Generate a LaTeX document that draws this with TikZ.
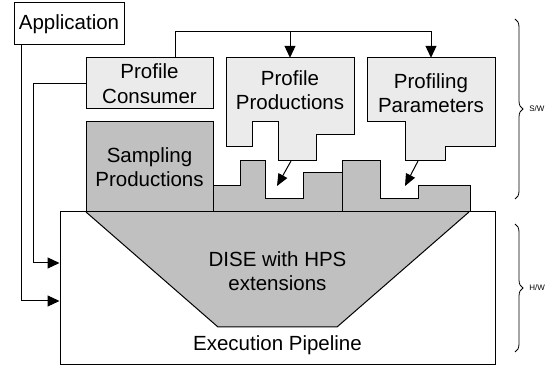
\documentclass[tikz,border=0pt]{standalone}
\usepackage{fontspec}
\setmainfont{Liberation Sans}
\usetikzlibrary{arrows.meta}
\usetikzlibrary{decorations.pathreplacing}
\usetikzlibrary{positioning}
\definecolor{lightpart}{HTML}{EBEBEB}
\definecolor{darkpart}{HTML}{C0C0C0}
\newcommand{\bigtext}{\fontsize{20.5}{24.5}\selectfont}
\tikzset{box/.style = {draw, line width=1pt, inner sep=0, align=center, font=\bigtext}}
\tikzset{txt/.style = {inner sep=0, align=center, font=\bigtext}}
\tikzset{part/.style = {draw, line width=1pt}}
\tikzset{arr/.style = {line width=1pt, -{Triangle[length=12pt, width=11pt]}}}
\tikzset{brace/.style = {decorate, decoration={brace, amplitude=8pt}, line width=0.8pt}}
\tikzset{side/.style = {midway, anchor=west, xshift=14pt, inner sep=0, font=\fontsize{8}{9}\selectfont}}

\begin{document}
\begin{tikzpicture}[x=1pt, y=-1pt]
      \useasboundingbox (0, 0) rectangle (552, 366);

      % hardware
      \node [box, fill=white, minimum width=435, minimum height=152] (pipe) at (277.5, 288) {};
      \fill [darkpart] (86, 212) -- (469, 212) -- (337, 327) -- (218, 327) -- cycle;
      \draw [line width=1pt] (86, 212) -- (218, 327) -- (337, 327) -- (469, 212);
      \node [txt] (dise) at (277.5, 271) {DISE with HPS\\extensions};
      \node [txt] (exec) at (277.5, 345) {Execution Pipeline};

      % productions
      \draw [part, fill=darkpart] (213, 212) -- (213, 186) -- (240, 186) -- (240, 161) -- (265, 161) -- (265, 199)
            -- (303, 199) -- (303, 173) -- (342, 173) -- (342, 212) -- cycle;
      \draw [part, fill=darkpart] (342, 212) -- (342, 161) -- (380, 161) -- (380, 199) -- (418, 199) -- (418, 186)
            -- (470, 186) -- (470, 212) -- cycle;
      \node [box, fill=darkpart, minimum width=127, minimum height=90] (samp) at (149.5, 167) {Sampling\\Productions};

      \draw [part, fill=lightpart] (226, 58) -- (354, 58) -- (354, 135) -- (316, 135) -- (316, 161) -- (278, 161)
            -- (278, 122) -- (252, 122) -- (252, 147) -- (226, 147) -- cycle;
      \node [txt, minimum width=128, minimum height=64] (prod) at (290, 90) {Profile\\Productions};
      \draw [part, fill=lightpart] (367, 58) -- (495, 58) -- (495, 147) -- (445, 147) -- (445, 161) -- (405, 161)
            -- (405, 122) -- (367, 122) -- cycle;
      \node [txt, minimum width=128, minimum height=70] (param) at (431, 93) {Profiling\\Parameters};

      \node [box, fill=lightpart, minimum width=127, minimum height=51] (cons) at (149.5, 83.5) {Profile\\Consumer};
      \node [box, minimum width=110, minimum height=42] (app) at (69, 24) {Application};

      % connectors
      \coordinate (split) at (175, 32);
      \draw [arr] (cons.north -| split) |- (param.north |- split) -- (param.north);
      \draw [arr] (prod.north |- split) -- (prod.north);
      \draw [arr] ([xshift=8pt]app.south west) |- ([yshift=-13pt]pipe.west);
      \draw [arr] (cons.west) -- ++(-52, 0) |- ([yshift=25pt]pipe.west);

      \coordinate (prodout) at (291, 161);
      \coordinate (prodin) at (277, 186);
      \coordinate (paramout) at (418, 161);
      \coordinate (paramin) at (405, 186);
      \draw [line width=1pt, -{Triangle[length=12pt, width=10pt]}] (prodout) -- (prodin);
      \draw [line width=1pt, -{Triangle[length=12pt, width=10pt]}] (paramout) -- (paramin);

      % braces
      \draw [brace] (515, 19) -- (515, 199) node [side] {S/W};
      \draw [brace] (515, 224) -- (515, 352) node [side] {H/W};
\end{tikzpicture}
\end{document}
